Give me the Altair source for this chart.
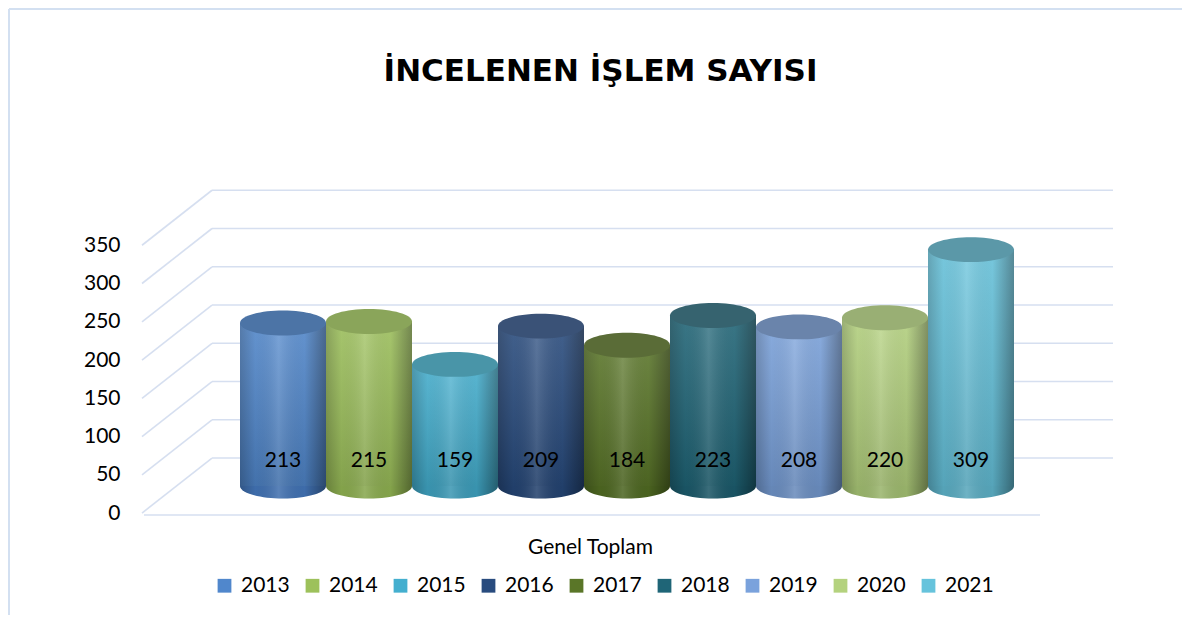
import altair as alt
import pandas as pd

# ---------------- data ----------------
years = ["2013", "2014", "2015", "2016", "2017", "2018", "2019", "2020", "2021"]
values = [213, 215, 159, 209, 184, 223, 208, 220, 309]
tick_values = [0, 50, 100, 150, 200, 250, 300, 350]
title_text = "İNCELENEN İŞLEM SAYISI"
x_title = "Genel Toplam"

# ---------------- styles ----------------
body_colors = ["#5087cc", "#9dc15b", "#44afcf", "#284b7e", "#5a7628",
               "#1f6577", "#7aa2dc", "#b4d27e", "#66c3dc"]
top_colors = ["#4c74a6", "#8aa55a", "#4995a8", "#3a5277", "#5a6c37",
              "#36636f", "#6a84ab", "#99af74", "#5b98a8"]
bottom_colors = ["#3f6ead", "#86a64c", "#3a96b2", "#22406c", "#4b6420",
                 "#1a5565", "#688abb", "#99b46b", "#57a6bb"]

FONT = "Lato"
GRID = "#d6dff0"
ELLIPSE = "M -1 0 A 1 0.29 0 1 1 1 0 A 1 0.29 0 1 1 -1 0 Z"
BAR_PX = 86

H_GRAD = {"gradient": "linear", "x1": 0, "y1": 0, "x2": 1, "y2": 0,
          "stops": [{"offset": 0.0, "color": "rgba(0,0,0,0.22)"},
                    {"offset": 0.18, "color": "rgba(0,0,0,0.02)"},
                    {"offset": 0.45, "color": "rgba(255,255,255,0.14)"},
                    {"offset": 0.75, "color": "rgba(0,0,0,0.02)"},
                    {"offset": 1.0, "color": "rgba(0,0,0,0.38)"}]}
V_GRAD = {"gradient": "linear", "x1": 0, "y1": 0, "x2": 0, "y2": 1,
          "stops": [{"offset": 0.0, "color": "rgba(255,255,255,0.12)"},
                    {"offset": 1.0, "color": "rgba(0,0,0,0.14)"}]}

df = pd.DataFrame({"year": years, "value": values,
                   "top": top_colors, "bottom": bottom_colors})
ticks_df = pd.DataFrame({"tick": tick_values})

yscale = alt.Scale(domain=[-44.4, 439.2], nice=False, zero=False)
xscale = alt.Scale(domain=years, range=[98, 872], paddingInner=0, paddingOuter=0)

Y_AXIS = alt.Axis(values=tick_values, labelOffset=27, labelPadding=22,
                  ticks=False, tickSize=0, domain=False, grid=False,
                  title=None, labelFont=FONT, labelFontSize=21,
                  labelColor="#000000")

x_enc = alt.X("year:N", scale=xscale, sort=years,
              axis=alt.Axis(labels=False, ticks=False, domain=False, grid=False,
                            title=x_title, titleFont=FONT, titleFontSize=21,
                            titleFontWeight="normal", titleColor="#000000",
                            titlePadding=16, titleX=448))


def yq(field):
    return alt.Y(field, scale=yscale, axis=Y_AXIS)


def yd(value):
    return alt.Y(datum=value, scale=yscale, axis=Y_AXIS)


# ---------------- perspective grid ----------------
back_grid = alt.Chart(ticks_df).mark_rule(color=GRID, strokeWidth=1.6, yOffset=-28).encode(
    y=yq("tick:Q"), x=alt.value(70), x2=alt.value(971))

diag_grid = alt.Chart(ticks_df).mark_rule(color=GRID, strokeWidth=1.6,
                                          yOffset=27, y2Offset=-28).encode(
    y=yq("tick:Q"), y2=alt.Y2("tick:Q"), x=alt.value(0), x2=alt.value(70))

floor = alt.Chart(ticks_df).transform_filter("datum.tick == 0").mark_rule(
    color=GRID, strokeWidth=1.6, yOffset=29).encode(
    y=yq("tick:Q"), x=alt.value(2), x2=alt.value(898))

# ---------------- cylinders ----------------
base = alt.Chart(df)

bottom_ell = base.mark_point(shape=ELLIPSE, size=BAR_PX ** 2, filled=True,
                             opacity=1, strokeWidth=0).encode(
    x=x_enc, y=yd(0), fill=alt.Fill("bottom:N", scale=None))
bottom_shade = base.mark_point(shape=ELLIPSE, size=BAR_PX ** 2, filled=True,
                               opacity=1, strokeWidth=0, fill=H_GRAD).encode(
    x=x_enc, y=yd(0))

bars = base.mark_bar(strokeWidth=0).encode(
    x=x_enc, y=yq("value:Q"), y2=alt.Y2(datum=0),
    color=alt.Color("year:N", sort=years,
                    scale=alt.Scale(domain=years, range=body_colors),
                    legend=alt.Legend(title=None, orient="none", legendX=72,
                                      legendY=425, direction="horizontal",
                                      columns=9, symbolType="square",
                                      symbolSize=190, symbolStrokeWidth=0,
                                      labelFont=FONT, labelFontSize=21,
                                      labelColor="#000000", labelOffset=6,
                                      columnPadding=12, padding=0)))
bar_hshade = base.mark_bar(strokeWidth=0, fill=H_GRAD).encode(
    x=x_enc, y=yq("value:Q"), y2=alt.Y2(datum=0))
bar_vshade = base.mark_bar(strokeWidth=0, fill=V_GRAD).encode(
    x=x_enc, y=yq("value:Q"), y2=alt.Y2(datum=0))

top_ell = base.mark_point(shape=ELLIPSE, size=BAR_PX ** 2, filled=True,
                          opacity=1, strokeWidth=0).encode(
    x=x_enc, y=yq("value:Q"), fill=alt.Fill("top:N", scale=None))

labels = base.mark_text(font=FONT, fontSize=21, color="#000000").encode(
    x=x_enc, y=yd(33), text=alt.Text("value:Q"))

# ---------------- outer border ----------------
border_left = alt.Chart(ticks_df).transform_filter("datum.tick == 0").mark_rule(
    color="#d3e0f1", strokeWidth=2).encode(
    x=alt.value(-133), y=alt.value(-141), y2=alt.value(470))
border_top = alt.Chart(ticks_df).transform_filter("datum.tick == 0").mark_rule(
    color="#d3e0f1", strokeWidth=2).encode(
    x=alt.value(-133), x2=alt.value(1040), y=alt.value(-141))

chart = alt.layer(
    border_left, border_top,
    back_grid, diag_grid, floor,
    bottom_ell, bottom_shade,
    bars, bar_hshade, bar_vshade,
    top_ell, labels
).properties(
    width=973, height=370,
    padding={"left": 134, "top": 142, "right": 67, "bottom": 95},
    autosize=alt.AutoSizeParams(type="none"),
    background="white",
    title=alt.TitleParams(title_text, font="DejaVu Sans", fontSize=31,
                          fontWeight="bold", color="#000000", anchor="middle",
                          frame="group", dx=-28, offset=-80)
).configure_view(stroke=None)

chart.save("out.html", embed_options={"renderer": "svg", "actions": False})
